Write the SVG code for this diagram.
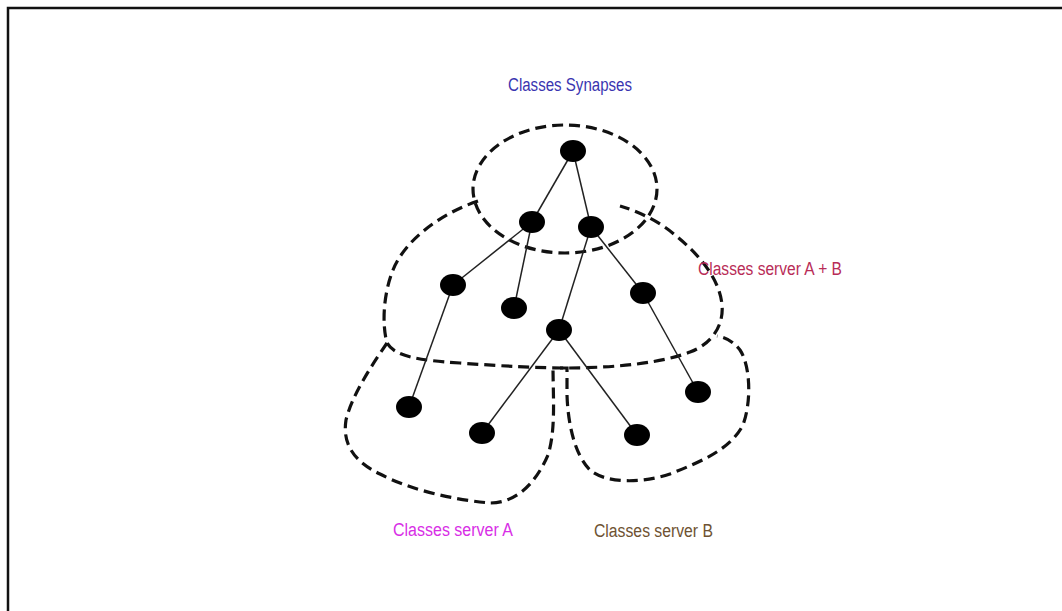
<svg xmlns="http://www.w3.org/2000/svg" width="1062" height="611" viewBox="0 0 1062 611">
  <style>
    .frame { fill: none; stroke: #111; stroke-width: 2.5; }
    .zone { fill: none; stroke: #111; stroke-width: 3.2; stroke-dasharray: 11 6; stroke-linecap: butt; }
    .edge { stroke: #222; stroke-width: 1.5; fill: none; }
    .node { fill: #000; }
    .label { font-family: "Liberation Sans", Arial, sans-serif; font-size: 18px; }
  </style>

  <rect width="1062" height="611" fill="#fff"/>
  <!-- page border (top and left only) -->
  <path class="frame" d="M 8,611 L 8,8 L 1062,8"/>

  <!-- class zones -->
  <g id="zones">
    <ellipse id="zone-synapses" class="zone" cx="565" cy="189" rx="92" ry="64"/>
    <path id="zone-ab" class="zone" d="M 478,201 C 440,214 405,240 393,270 C 383,295 382,325 387,343 C 395,356 415,360 460,363 C 500,366 540,368 565,368 C 620,368 665,362 690,352 C 712,344 724,325 722,305 C 720,280 700,255 675,235 C 660,222 640,212 620,206"/>
    <path id="zone-a" class="zone" d="M 387,343 C 372,365 352,395 346,420 C 342,445 355,462 380,474 C 410,490 455,500 490,503 C 515,503 535,485 548,455 C 556,430 553,395 553,367"/>
    <path id="zone-b" class="zone" d="M 560,368 L 567,368 L 567,395 C 568,425 575,455 590,470 C 605,483 640,484 670,474 C 700,462 730,450 743,425 C 752,400 750,365 740,350 C 733,341 725,337 717,336"/>
  </g>

  <!-- connectors -->
  <g id="connectors">
    <line class="edge" x1="573" y1="151" x2="532" y2="222"/>
    <line class="edge" x1="573" y1="151" x2="591" y2="227"/>
    <line class="edge" x1="532" y1="222" x2="453" y2="285"/>
    <line class="edge" x1="532" y1="222" x2="514" y2="308"/>
    <line class="edge" x1="591" y1="227" x2="559" y2="330"/>
    <line class="edge" x1="591" y1="227" x2="643" y2="293"/>
    <line class="edge" x1="453" y1="285" x2="409" y2="407"/>
    <line class="edge" x1="559" y1="330" x2="482" y2="433"/>
    <line class="edge" x1="559" y1="330" x2="637" y2="435"/>
    <line class="edge" x1="643" y1="293" x2="698" y2="392"/>
  </g>

  <!-- nodes -->
  <g id="n0"><ellipse class="node" cx="573" cy="151" rx="13" ry="11"/></g>
  <g id="n1"><ellipse class="node" cx="532" cy="222" rx="13" ry="11"/></g>
  <g id="n2"><ellipse class="node" cx="591" cy="227" rx="13" ry="11"/></g>
  <g id="n3"><ellipse class="node" cx="453" cy="285" rx="13" ry="11"/></g>
  <g id="n4"><ellipse class="node" cx="514" cy="308" rx="13" ry="11"/></g>
  <g id="n5"><ellipse class="node" cx="643" cy="293" rx="13" ry="11"/></g>
  <g id="n6"><ellipse class="node" cx="559" cy="330" rx="13" ry="11"/></g>
  <g id="n7"><ellipse class="node" cx="409" cy="407" rx="13" ry="11"/></g>
  <g id="n8"><ellipse class="node" cx="482" cy="433" rx="13" ry="11"/></g>
  <g id="n9"><ellipse class="node" cx="637" cy="435" rx="13" ry="11"/></g>
  <g id="n10"><ellipse class="node" cx="698" cy="392" rx="13" ry="11"/></g>

  <!-- labels -->
  <g id="labels">
    <text class="label" x="508" y="91" fill="#3a34b0" textLength="124" lengthAdjust="spacingAndGlyphs">Classes Synapses</text>
    <text class="label" x="698" y="275" fill="#b82c57" textLength="144" lengthAdjust="spacingAndGlyphs">Classes server A + B</text>
    <text class="label" x="393" y="536" fill="#d82ee6" textLength="120" lengthAdjust="spacingAndGlyphs">Classes server A</text>
    <text class="label" x="594" y="537" fill="#6e5232" textLength="119" lengthAdjust="spacingAndGlyphs">Classes server B</text>
  </g>
</svg>
